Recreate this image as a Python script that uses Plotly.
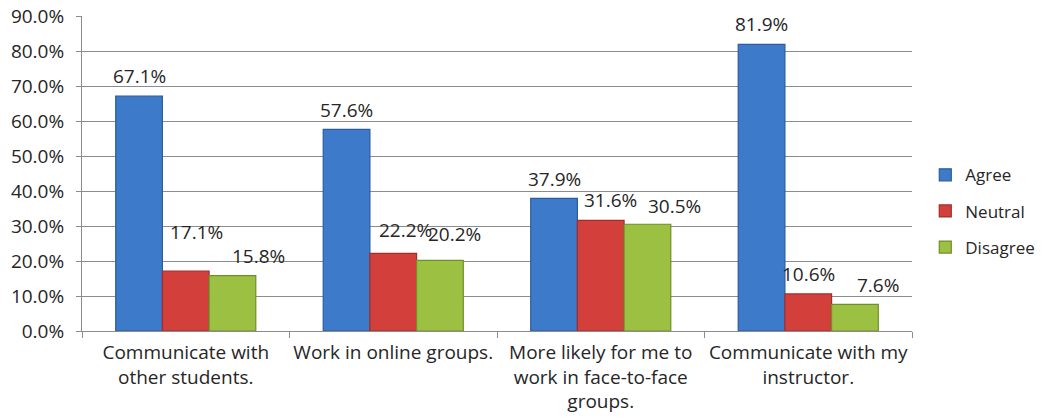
import plotly.graph_objects as go

# Survey items (x-axis categories)
categories = [
    "Communicate with<br>other students.",
    "Work in online groups.",
    "More likely for me to<br>work in face-to-face<br>groups.",
    "Communicate with my<br>instructor.",
]

# Response shares per series (fractions)
agree = [0.671, 0.576, 0.379, 0.819]
neutral = [0.171, 0.222, 0.316, 0.106]
disagree = [0.158, 0.202, 0.305, 0.076]

series_names = ["Agree", "Neutral", "Disagree"]
series_values = [agree, neutral, disagree]
fill_colors = ["#3d7bca", "#d3403c", "#9cc142"]
edge_colors = ["#2a5c9e", "#a22d2a", "#6e8f2a"]

# Data-label nudges (pixels) so labels do not collide: (dx, dy above bar top)
label_dx = [[0, 0, 0, 0], [11, 12, 10, 0], [26, 15, 27, 23]]
label_dy = [[20, 19, 19, 20], [39, 23, 20, 20], [20, 26, 18, 19]]

FONT = "'Open Sans', Lato, sans-serif"
TEXT_COLOR = "#262626"
FS = 19
LEGEND_FS = 17

# plot-area geometry used to place labels beside their bars
L, R, T, B = 82, 132, 16, 88
W, H = 1044, 419
BARGAP = 0.325
cat_px = (W - L - R) / len(categories)
bar_px = cat_px * (1 - BARGAP) / len(series_names)

fig = go.Figure()
for k, (name, vals) in enumerate(zip(series_names, series_values)):
    fig.add_trace(go.Bar(
        name=name,
        x=categories,
        y=vals,
        legendgroup=name,
        marker=dict(color=fill_colors[k], line=dict(color=edge_colors[k], width=1.2)),
    ))

annotations = []
for k, vals in enumerate(series_values):
    for j, v in enumerate(vals):
        annotations.append(dict(
            x=categories[j], y=v, xref="x", yref="y",
            text=f"{v * 100:.1f}%",
            showarrow=False,
            xshift=(k - 1) * bar_px + label_dx[k][j],
            yshift=label_dy[k][j],
            font=dict(family=FONT, size=FS, color=TEXT_COLOR),
        ))

fig.update_layout(
    width=W, height=H,
    margin=dict(l=L, r=R, t=T, b=B, autoexpand=False),
    paper_bgcolor="white", plot_bgcolor="white",
    barmode="group", bargap=BARGAP, bargroupgap=0,
    font=dict(family=FONT, size=FS, color=TEXT_COLOR),
    annotations=annotations,
    legend=dict(
        x=1.016, y=0.38, xanchor="left", yanchor="middle",
        xref="paper", yref="paper",
        font=dict(family=FONT, size=LEGEND_FS, color=TEXT_COLOR),
        traceorder="grouped", tracegroupgap=11,
        itemwidth=30,
    ),
    showlegend=True,
)
fig.update_yaxes(
    range=[0, 0.9], dtick=0.1, tickformat=".1%",
    showgrid=True, gridcolor="#8c8c8c", gridwidth=1,
    showline=True, linecolor="#8c8c8c", linewidth=1,
    ticks="outside", ticklen=5, tickcolor="#8c8c8c",
    ticklabelstandoff=8, zeroline=False, automargin=False,
)
fig.update_xaxes(
    showline=True, linecolor="#8c8c8c", linewidth=1,
    ticks="outside", ticklen=6, tickcolor="#8c8c8c",
    tickson="boundaries", tickangle=0, ticklabelstandoff=4,
    automargin=False,
)

fig.write_html("out.html")
